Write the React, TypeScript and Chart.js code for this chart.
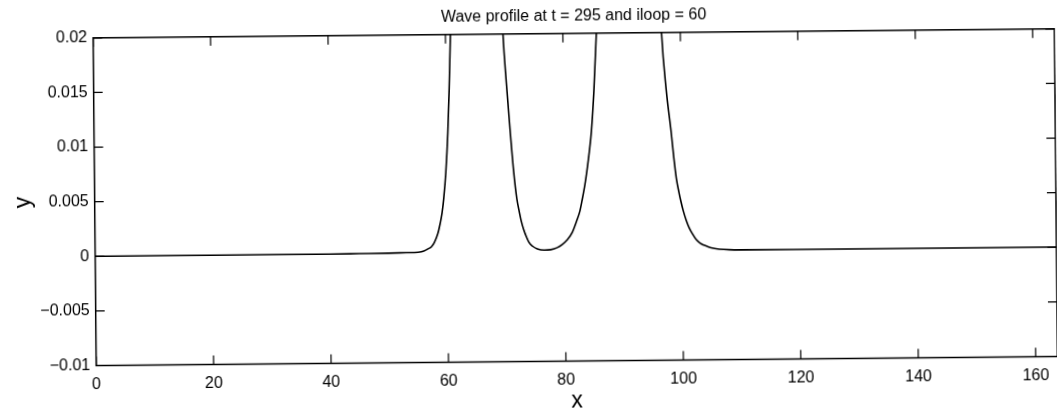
import React, { useEffect, useRef } from "react";
import { Chart, registerables } from "chart.js";

Chart.register(...registerables);

const titleText = "Wave profile at t = 295 and iloop = 60";
const xLabel = "x";
const yLabel = "y";

const xMin = 0;
const xMax = 163.7;
const yMin = -0.01;
const yMax = 0.02;

const xTicks = [0, 20, 40, 60, 80, 100, 120, 140, 160];
const xTickLabels = ["0", "20", "40", "60", "80", "100", "120", "140", "160"];
const yTicks = [-0.01, -0.005, 0, 0.005, 0.01, 0.015, 0.02];
const yTickLabels = ["\u22120.01", "\u22120.005", "0", "0.005", "0.01", "0.015", "0.02"];

const xValues = [
  0, 10, 20, 30, 40, 45, 50, 53, 55, 56, 56.7, 57.3, 57.8, 58.4, 58.8, 59.15, 59.45, 59.85, 60.25,
  60.55, 60.85, 61.3, 62, 65, 68.5, 69.3, 69.8, 70.3, 70.9, 71.4, 71.9, 72.3, 72.6, 73.0, 73.4, 73.9,
  74.5, 75.3, 76.5, 77.6, 78.7, 79.6, 80.4, 81.3, 82.1, 82.6, 83.0, 83.5, 83.9, 84.3, 84.7, 85.2,
  85.7, 86.3, 87.2, 91, 95.5, 96.3, 96.8, 97.5, 98.3, 98.7, 99.1, 99.5, 99.8, 100.2, 100.7, 101.2,
  101.8, 102.4, 103, 103.7, 104.5, 105.3, 106.3, 108, 110, 120, 140, 163.7,
];
const yValues = [
  0, 0, 0, 0, 0, 0.00002, 0.00004, 0.00007, 0.0001, 0.0002, 0.0004, 0.0006, 0.001, 0.0018, 0.0027,
  0.0037, 0.005, 0.0074, 0.011, 0.015, 0.02, 0.03, 0.045, 0.065, 0.045, 0.028, 0.02, 0.0155,
  0.0109, 0.0074, 0.0049, 0.0037, 0.0029, 0.0021, 0.0015, 0.0009, 0.00055, 0.0003, 0.00018,
  0.00022, 0.0004, 0.0007, 0.0011, 0.0018, 0.0029, 0.0037, 0.0047, 0.0061, 0.0075, 0.0091, 0.011,
  0.0148, 0.02, 0.028, 0.045, 0.065, 0.045, 0.028, 0.02, 0.0148, 0.0108, 0.0085, 0.0066, 0.0054,
  0.0046, 0.0037, 0.0028, 0.0021, 0.0015, 0.001, 0.0007, 0.0005, 0.00032, 0.0002, 0.00012,
  0.00006, 0.00004, 0.00003, 0.00002, 0.00002,
];

const FONT = "'Liberation Sans', Arial, Helvetica, sans-serif";

const framePlugin = {
  id: "matlabFrame",
  afterDraw(chart: any) {
    const { ctx, chartArea, scales } = chart;
    const { left, right, top, bottom } = chartArea;
    const xs = scales.x;
    const ys = scales.y;
    const tl = 9;
    ctx.save();
    ctx.strokeStyle = "#000";
    ctx.lineWidth = 1.5;
    ctx.strokeRect(left, top, right - left, bottom - top);
    ctx.lineWidth = 1.2;
    ctx.beginPath();
    xTicks.forEach((v) => {
      const px = xs.getPixelForValue(v);
      ctx.moveTo(px, bottom);
      ctx.lineTo(px, bottom - tl);
      ctx.moveTo(px, top);
      ctx.lineTo(px, top + tl);
    });
    yTicks.forEach((v) => {
      const py = ys.getPixelForValue(v);
      ctx.moveTo(left, py);
      ctx.lineTo(left + tl, py);
      ctx.moveTo(right, py);
      ctx.lineTo(right - tl, py);
    });
    ctx.stroke();
    // title centred over the plot area
    ctx.fillStyle = "#000";
    ctx.font = `16px ${FONT}`;
    ctx.textAlign = "center";
    ctx.textBaseline = "middle";
    ctx.fillText(titleText, (left + right) / 2, 17);
    ctx.restore();
  },
};

export default function App() {
  const canvasRef = useRef<HTMLCanvasElement | null>(null);

  useEffect(() => {
    document.body.style.margin = "0";
    const canvas = canvasRef.current;
    if (!canvas) return;
    const points = xValues.map((x, i) => ({ x, y: yValues[i] }));
    const chart = new Chart(canvas, {
      type: "line",
      data: {
        datasets: [
          {
            data: points,
            borderColor: "#000",
            borderWidth: 1.6,
            pointRadius: 0,
            fill: false,
            cubicInterpolationMode: "monotone",
          },
        ],
      },
      options: {
        animation: false,
        responsive: false,
        maintainAspectRatio: false,
        layout: { padding: { left: 0, right: 1, top: 33.8, bottom: 0 } },
        plugins: {
          legend: { display: false },
          tooltip: { enabled: false },
          title: { display: false },
        },
        scales: {
          x: {
            type: "linear",
            min: xMin,
            max: xMax,
            grid: { display: false, drawTicks: false },
            border: { display: false },
            afterFit: (s: any) => {
              s.height = 49.5;
            },
            afterBuildTicks: (s: any) => {
              s.ticks = xTicks.map((v) => ({ value: v }));
            },
            ticks: {
              color: "#000",
              padding: 9,
              maxRotation: 0,
              autoSkip: false,
              font: { family: FONT, size: 16 },
              callback: (v: any) => {
                const i = xTicks.indexOf(Number(v));
                return i >= 0 ? xTickLabels[i] : "";
              },
            },
            title: {
              display: true,
              text: xLabel,
              color: "#000",
              font: { family: FONT, size: 23, lineHeight: 0.8 },
              padding: { top: 0, bottom: 0 },
            },
          },
          y: {
            type: "linear",
            min: yMin,
            max: yMax,
            grid: { display: false, drawTicks: false },
            border: { display: false },
            afterFit: (s: any) => {
              s.width = 94.7;
            },
            afterBuildTicks: (s: any) => {
              s.ticks = yTicks.map((v) => ({ value: v }));
            },
            ticks: {
              color: "#000",
              padding: 6,
              autoSkip: false,
              font: { family: FONT, size: 16 },
              callback: (v: any) => {
                const i = yTicks.findIndex((t) => Math.abs(t - Number(v)) < 1e-9);
                return i >= 0 ? yTickLabels[i] : "";
              },
            },
            title: {
              display: true,
              text: yLabel,
              color: "#000",
              font: { family: FONT, size: 23, lineHeight: 1 },
              padding: { top: 12.5, bottom: 0 },
            },
          },
        },
      },
      plugins: [framePlugin],
    });
    return () => {
      chart.destroy();
    };
  }, []);

  return (
    <div style={{ width: 1057, height: 411, position: "relative", overflow: "hidden" }}>
      <canvas
        ref={canvasRef}
        width={1057}
        height={411}
        style={{ display: "block", transform: "rotate(-0.54deg)", transformOrigin: "50% 50%" }}
      />
    </div>
  );
}
